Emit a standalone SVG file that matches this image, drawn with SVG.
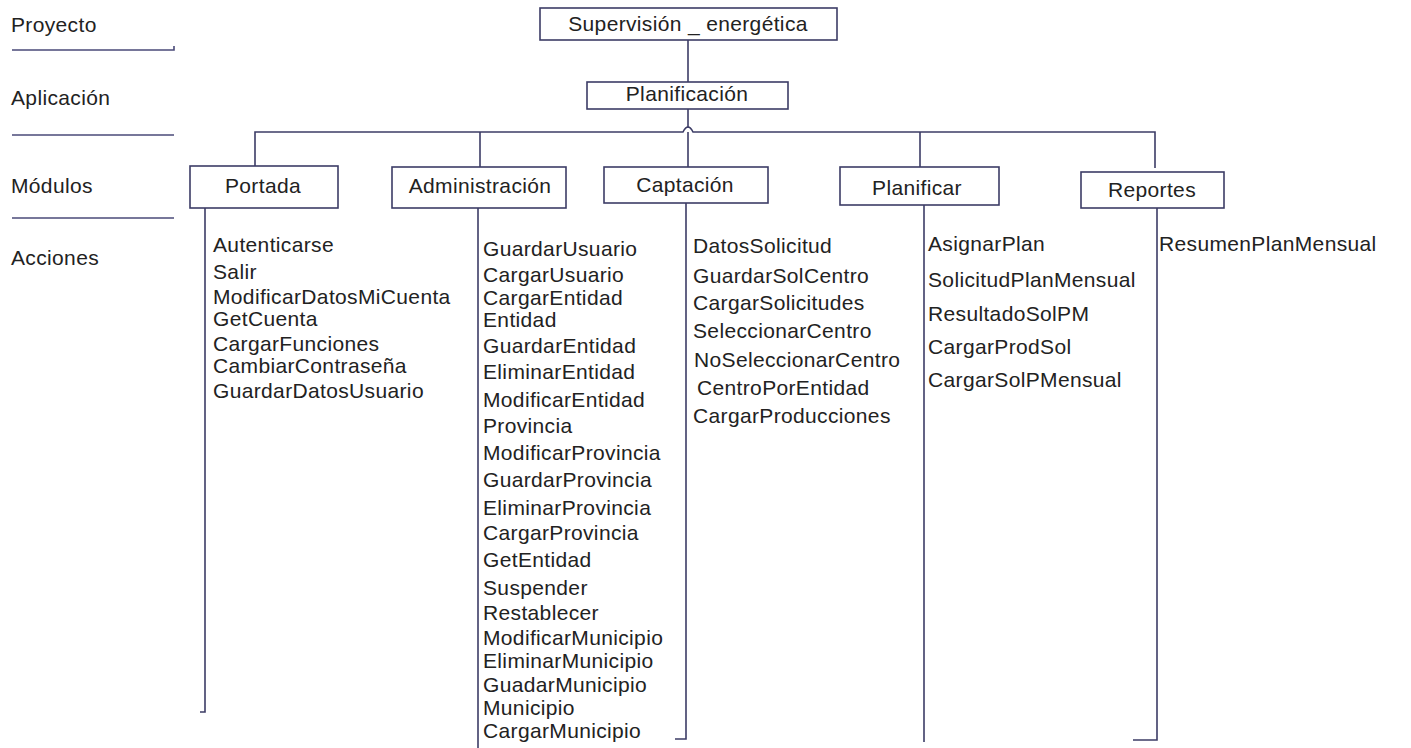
<svg xmlns="http://www.w3.org/2000/svg" width="1411" height="748" viewBox="0 0 1411 748">
  <style>
    text { font-family: "Liberation Sans", Arial, sans-serif; font-size: 21px; letter-spacing: 0.35px; fill: #222; }
    .c { text-anchor: middle; }
    .box { fill: #fff; stroke: #3c3c66; stroke-width: 1.6; }
    .ln { fill: none; stroke: #3c3c66; stroke-width: 1.6; }
    .sep { fill: none; stroke: #4a4a78; stroke-width: 1.6; }
  </style>
  <rect width="1411" height="748" fill="#fff"/>

  <!-- level labels and separators -->
  <g id="levels">
    <text x="11" y="32">Proyecto</text>
    <text x="11" y="105">Aplicación</text>
    <text x="11" y="193">Módulos</text>
    <text x="11" y="265">Acciones</text>
    <path class="sep" d="M12 50 H174 V46"/>
    <path class="sep" d="M12 135 H174"/>
    <path class="sep" d="M12 218 H174"/>
  </g>

  <!-- connectors -->
  <g id="connectors">
    <path class="ln" d="M688 40 V82"/>
    <path class="ln" d="M688 109 V128"/>
    <path class="ln" d="M255 166 V132 H683 Q688 122 693 132 H1155 V168"/>
    <path class="ln" d="M688 132 V167"/>
    <path class="ln" d="M480 132 V167"/>
    <path class="ln" d="M920 132 V167"/>
    <!-- action rails -->
    <path class="ln" d="M205 208 V712 H200"/>
    <path class="ln" d="M478 208 V748"/>
    <path class="ln" d="M686 203 V739 H675"/>
    <path class="ln" d="M924 205 V742"/>
    <path class="ln" d="M1157 208 V740 H1133"/>
  </g>

  <g id="supervision">
    <rect class="box" x="540" y="8" width="297" height="32"/>
    <text class="c" x="688" y="31">Supervisión _ energética</text>
  </g>
  <g id="planificacion">
    <rect class="box" x="587" y="82" width="201" height="27"/>
    <text class="c" x="687" y="101">Planificación</text>
  </g>

  <g id="portada">
    <rect class="box" x="190" y="166" width="148" height="42"/>
    <text class="c" x="263" y="193">Portada</text>
    <text x="213" y="252">Autenticarse</text>
    <text x="213" y="279">Salir</text>
    <text x="213" y="304">ModificarDatosMiCuenta</text>
    <text x="213" y="326">GetCuenta</text>
    <text x="213" y="351">CargarFunciones</text>
    <text x="213" y="373">CambiarContraseña</text>
    <text x="213" y="398">GuardarDatosUsuario</text>
  </g>

  <g id="administracion">
    <rect class="box" x="392" y="167" width="174" height="41"/>
    <text class="c" x="480" y="193">Administración</text>
    <text x="483" y="256">GuardarUsuario</text>
    <text x="483" y="282">CargarUsuario</text>
    <text x="483" y="305">CargarEntidad</text>
    <text x="483" y="327">Entidad</text>
    <text x="483" y="353">GuardarEntidad</text>
    <text x="483" y="379">EliminarEntidad</text>
    <text x="483" y="407">ModificarEntidad</text>
    <text x="483" y="433">Provincia</text>
    <text x="483" y="460">ModificarProvincia</text>
    <text x="483" y="487">GuardarProvincia</text>
    <text x="483" y="515">EliminarProvincia</text>
    <text x="483" y="540">CargarProvincia</text>
    <text x="483" y="567">GetEntidad</text>
    <text x="483" y="595">Suspender</text>
    <text x="483" y="620">Restablecer</text>
    <text x="483" y="645">ModificarMunicipio</text>
    <text x="483" y="668">EliminarMunicipio</text>
    <text x="483" y="692">GuadarMunicipio</text>
    <text x="483" y="715">Municipio</text>
    <text x="483" y="738">CargarMunicipio</text>
  </g>

  <g id="captacion">
    <rect class="box" x="604" y="167" width="164" height="36"/>
    <text class="c" x="685" y="192">Captación</text>
    <text x="693" y="253">DatosSolicitud</text>
    <text x="693" y="283">GuardarSolCentro</text>
    <text x="693" y="310">CargarSolicitudes</text>
    <text x="693" y="338">SeleccionarCentro</text>
    <text x="694" y="367">NoSeleccionarCentro</text>
    <text x="697" y="395">CentroPorEntidad</text>
    <text x="693" y="423">CargarProducciones</text>
  </g>

  <g id="planificar">
    <rect class="box" x="840" y="167" width="159" height="38"/>
    <text class="c" x="917" y="195">Planificar</text>
    <text x="928" y="251">AsignarPlan</text>
    <text x="928" y="287">SolicitudPlanMensual</text>
    <text x="928" y="321">ResultadoSolPM</text>
    <text x="928" y="354">CargarProdSol</text>
    <text x="928" y="387">CargarSolPMensual</text>
  </g>

  <g id="reportes">
    <rect class="box" x="1081" y="172" width="143" height="36"/>
    <text class="c" x="1152" y="197">Reportes</text>
    <text x="1159" y="251">ResumenPlanMensual</text>
  </g>
</svg>
